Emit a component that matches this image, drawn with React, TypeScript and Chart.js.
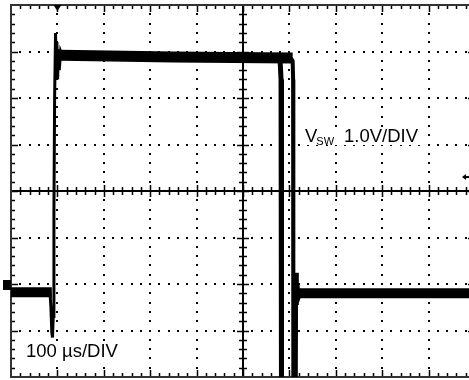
import React, { useEffect, useRef } from "react";
import { Chart, registerables } from "chart.js";

Chart.register(...registerables);

// Axis setup: 100 µs/DIV horizontally, 1.0 V/DIV vertically
const TIME_MIN = 0;
const TIME_MAX = 1000; // µs
const VOLT_MIN = -2;
const VOLT_MAX = 6; // V
const TIME_PER_DIV = 100;
const VOLT_PER_DIV = 1;
const MINOR_PER_DIV = 5;
const CENTER_TIME = 500;
const CENTER_VOLT = 2;
const GROUND_VOLT = 0;
const TRIGGER_TIME = 100;
const TRIGGER_LEVEL = 2.3;

// Trace pieces (time in µs, voltage in V)
const lowLeftTime = [0, 88];
const lowLeftVolt = [-0.18, -0.18];

const riseTime = [84, 86, 88, 89.5, 91, 92.5, 94, 96, 97.5, 99, 100.5, 102, 104, 107, 110];
const riseVolt = [-0.18, -0.5, -1.05, -1.15, -0.7, 1.5, 4.0, 5.4, 4.5, 5.2, 4.4, 5.05, 4.6, 5.0, 4.92];

const highTime = [108, 350, 607];
const highVolt = [4.92, 4.88, 4.86];

const fallATime = [574, 580, 582, 583];
const fallAVolt = [4.86, 4.8, 4.4, -3];

const fallBTime = [603, 607, 608, 608.5, 613.5, 614.5, 616, 617.5, 619.5, 623];
const fallBVolt = [4.86, 4.8, 4.4, -3, -3, 0.24, -0.45, 0.0, -0.3, -0.2];

const lowRightTime = [615, 1000];
const lowRightVolt = [-0.2, -0.2];

const VOLT_LABEL_MAIN = "V";
const VOLT_LABEL_SUB = "SW";
const VOLT_LABEL_SCALE = "1.0V/DIV";
const TIME_LABEL = "100 µs/DIV";

const pts = (t: number[], v: number[]) => t.map((tt, i) => ({ x: tt, y: v[i] }));

const FONT = '"Liberation Sans", Arial, Helvetica, sans-serif';

const scopePlugin = {
  id: "scopeGrid",
  beforeDatasetsDraw(chart: any) {
    const { ctx, chartArea: a, scales } = chart;
    const x = scales.x;
    const y = scales.y;
    const minorT = TIME_PER_DIV / MINOR_PER_DIV;
    const minorV = VOLT_PER_DIV / MINOR_PER_DIV;
    const nT = Math.round((TIME_MAX - TIME_MIN) / minorT);
    const nV = Math.round((VOLT_MAX - VOLT_MIN) / minorV);
    ctx.save();
    ctx.fillStyle = "#000";
    // dotted vertical grid lines
    for (let d = 1; d < (TIME_MAX - TIME_MIN) / TIME_PER_DIV; d++) {
      const t = TIME_MIN + d * TIME_PER_DIV;
      if (t === CENTER_TIME) continue;
      const px = Math.round(x.getPixelForValue(t));
      for (let k = 1; k < nV; k++) {
        const py = Math.round(y.getPixelForValue(VOLT_MIN + k * minorV));
        ctx.fillRect(px - 1, py - 1, 2, 2);
      }
    }
    // dotted horizontal grid lines
    for (let d = 1; d < (VOLT_MAX - VOLT_MIN) / VOLT_PER_DIV; d++) {
      const v = VOLT_MIN + d * VOLT_PER_DIV;
      if (v === CENTER_VOLT) continue;
      const py = Math.round(y.getPixelForValue(v));
      for (let k = 1; k < nT; k++) {
        const px = Math.round(x.getPixelForValue(TIME_MIN + k * minorT));
        ctx.fillRect(px - 1, py - 1, 2, 2);
      }
    }
    // center axes
    ctx.strokeStyle = "#000";
    ctx.lineWidth = 2;
    const cx = Math.round(x.getPixelForValue(CENTER_TIME));
    const cy = Math.round(y.getPixelForValue(CENTER_VOLT));
    ctx.beginPath();
    ctx.moveTo(cx, a.top);
    ctx.lineTo(cx, a.bottom);
    ctx.moveTo(a.left, cy);
    ctx.lineTo(a.right, cy);
    ctx.stroke();
    ctx.lineWidth = 1.5;
    ctx.beginPath();
    for (let k = 1; k < nV; k++) {
      const py = Math.round(y.getPixelForValue(VOLT_MIN + k * minorV)) + 0.5;
      const len = k % MINOR_PER_DIV === 0 ? 6 : 4;
      ctx.moveTo(cx - len, py);
      ctx.lineTo(cx + len, py);
      const bl = k % MINOR_PER_DIV === 0 ? 7 : 4;
      ctx.moveTo(a.left, py);
      ctx.lineTo(a.left + bl, py);
      ctx.moveTo(a.right, py);
      ctx.lineTo(a.right - bl, py);
    }
    for (let k = 1; k < nT; k++) {
      const px = Math.round(x.getPixelForValue(TIME_MIN + k * minorT)) + 0.5;
      const len = k % MINOR_PER_DIV === 0 ? 6 : 4;
      ctx.moveTo(px, cy - len);
      ctx.lineTo(px, cy + len);
      const bl = k % MINOR_PER_DIV === 0 ? 7 : 4;
      ctx.moveTo(px, a.top);
      ctx.lineTo(px, a.top + bl);
      ctx.moveTo(px, a.bottom);
      ctx.lineTo(px, a.bottom - bl);
    }
    ctx.stroke();
    // frame
    ctx.strokeStyle = "#333";
    ctx.lineWidth = 2;
    ctx.strokeRect(a.left, a.top, a.right - a.left, a.bottom - a.top);
    // label backgrounds (hide grid dots behind text)
    ctx.fillStyle = "#fff";
    ctx.fillRect(302, 127, 119, 18);
    ctx.fillRect(23, 341, 97, 20);
    ctx.restore();
  },
  afterDatasetsDraw(chart: any) {
    const { ctx, chartArea: a, scales } = chart;
    const x = scales.x;
    const y = scales.y;
    ctx.save();
    ctx.fillStyle = "#000";
    // ground marker on the left
    const gy = y.getPixelForValue(GROUND_VOLT);
    ctx.fillRect(a.left - 8, gy - 4, 8, 10);
    // trigger position marker on the top
    const tx = x.getPixelForValue(TRIGGER_TIME);
    ctx.beginPath();
    ctx.moveTo(tx - 4, a.top);
    ctx.lineTo(tx + 4, a.top);
    ctx.lineTo(tx, a.top + 6);
    ctx.closePath();
    ctx.fill();
    // trigger level arrow on the right
    const ty = y.getPixelForValue(TRIGGER_LEVEL);
    const ax = x.getPixelForValue(TIME_MAX) - 13;
    ctx.beginPath();
    ctx.moveTo(ax, ty);
    ctx.lineTo(ax + 4, ty - 3);
    ctx.lineTo(ax + 4, ty + 3);
    ctx.closePath();
    ctx.fill();
    ctx.fillRect(ax + 3, ty - 1, 4, 2);
    // labels
    ctx.textBaseline = "alphabetic";
    ctx.textAlign = "left";
    ctx.font = `18.5px ${FONT}`;
    ctx.fillText(VOLT_LABEL_MAIN, 305, 142);
    const vw = ctx.measureText(VOLT_LABEL_MAIN).width;
    ctx.font = `11px ${FONT}`;
    ctx.fillText(VOLT_LABEL_SUB, 305 + vw - 1, 145);
    ctx.font = `18.5px ${FONT}`;
    ctx.fillText(VOLT_LABEL_SCALE, 344, 142);
    ctx.fillText(TIME_LABEL, 26, 357);
    ctx.restore();
  },
};

export default function App() {
  const ref = useRef<HTMLCanvasElement | null>(null);
  useEffect(() => {
    if (!ref.current) return;
    const line = (data: any, w: number) => ({
      data,
      borderColor: "#000",
      backgroundColor: "#000",
      borderWidth: w,
      pointRadius: 0,
      tension: 0,
      fill: false,
      borderJoinStyle: "miter" as const,
    });
    const chart = new Chart(ref.current, {
      type: "line",
      data: {
        datasets: [
          line(pts(lowLeftTime, lowLeftVolt), 10),
          line(pts(highTime, highVolt), 11),
          line(pts(lowRightTime, lowRightVolt), 10),
          line(pts(riseTime, riseVolt), 3),
          line(pts(fallATime, fallAVolt), 5),
          line(pts(fallBTime, fallBVolt), 4),
        ],
      },
      options: {
        animation: false,
        responsive: false,
        devicePixelRatio: 1,
        parsing: false as any,
        layout: { padding: { left: 11, top: 5, right: 5, bottom: 3 } },
        plugins: { legend: { display: false }, tooltip: { enabled: false } },
        scales: {
          x: { type: "linear", min: TIME_MIN, max: TIME_MAX, display: false },
          y: { type: "linear", min: VOLT_MIN, max: VOLT_MAX, display: false },
        },
      },
      plugins: [scopePlugin],
    });
    return () => chart.destroy();
  }, []);
  return (
    <div
      style={{
        position: "fixed",
        left: 0,
        top: 0,
        width: 469,
        height: 380,
        overflow: "hidden",
        background: "#fff",
      }}
    >
      <canvas ref={ref} width={480} height={380} style={{ display: "block" }} />
    </div>
  );
}
